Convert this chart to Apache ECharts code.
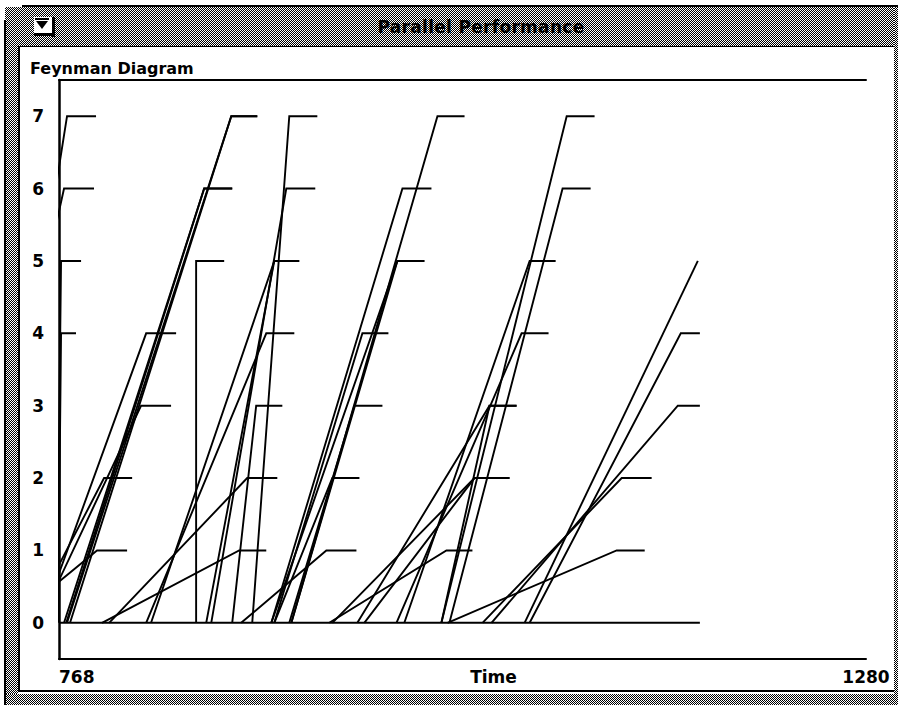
<!DOCTYPE html>
<html>
<head>
<meta charset="utf-8">
<title>Parallel Performance</title>
<script src="https://cdn.jsdelivr.net/npm/echarts@6/dist/echarts.min.js"></script>
<style>
  html, body { margin: 0; padding: 0; background: #fff; }
  #win { position: relative; width: 898px; height: 705px; overflow: hidden; background: #fff; }
  .dither {
    position: absolute;
    background: repeating-conic-gradient(#000 0 25%, #fff 0 50%) 0 0 / 2px 2px;
  }
  .bar { position: absolute; background: #000; }
  #panel {
    position: absolute; left: 18px; top: 46px; width: 876px; height: 646px;
    background: #fff; border-left: 2px solid #000; border-top: 1px solid #000; border-bottom: 2px solid #000;
    box-sizing: border-box;
  }
  #wtitle {
    position: absolute; left: 0; width: 962px; top: 17px; text-align: center;
    font: bold 17px "DejaVu Sans", sans-serif; color: #000; letter-spacing: 0.3px;
  }
  #closebox { position: absolute; left: 34px; top: 17px; width: 18px; height: 16px; background: #fff; }
  #chart { position: absolute; left: 0; top: 0; width: 898px; height: 705px; }
</style>
</head>
<body>
<div id="win">
  <div class="dither" style="left:5px;top:7px;width:893px;height:40px"></div>
  <div class="dither" style="left:5px;top:7px;width:13px;height:698px"></div>
  <div class="dither" style="left:5px;top:694px;width:893px;height:11px"></div>
  <div class="dither" style="left:894px;top:7px;width:4px;height:698px"></div>
  <div class="bar" style="left:22px;top:5px;width:876px;height:2px"></div>
  <div class="bar" style="left:4px;top:20px;width:2px;height:685px"></div>
  <div id="panel"></div>
  <div id="closebox">
    <svg width="18" height="16" viewBox="0 0 18 16">
      <rect x="1" y="1" width="14" height="2" fill="#000"/>
      <polygon points="2,4 14,4 8,12" fill="#000"/>
    </svg>
  </div>
  <div class="bar" style="left:52px;top:17px;width:3px;height:20px"></div>
  <div class="bar" style="left:34px;top:33px;width:21px;height:3px"></div>
  <div id="wtitle">Parallel Performance</div>
  <div id="chart"></div>
</div>
<script>
// Message events: each message leaves processor 0 at sendTime and reaches
// processor procId at recvTime; the receiver then stays busy until busyUntil.
const procLevels = [0, 1, 2, 3, 4, 5, 6, 7];
const timeTicks = [768, 1280];
const procId = [
  7, 6, 5, 4,
  1, 2, 3, 4, 5, 6, 6, 7, 7,
  1, 2, 3, 4, 5, 5, 6, 7,
  1, 2, 3, 4, 5, 5, 6, 7,
  1, 2, 2, 3, 3, 4, 5, 6, 7,
  1, 2, 3, 4, 5
];
const sendTime = [
  722.3, 710.2, 766.7, 767.4,
  736.2, 748.9, 755.3, 756.6, 855.0, 771.2, 772.6, 773.1, 775.0,
  795.3, 799.8, 877.9, 823.3, 826.4, 861.4, 864.6, 890.6,
  883.6, 904.6, 914.1, 904.6, 915.4, 902.7, 902.7, 915.4,
  939.5, 941.4, 961.7, 957.3, 1010.6, 982.1, 987.1, 1015.7, 1010.6,
  1014.5, 1036.7, 1042.4, 1066.6, 1063.4
];
const recvTime = [
  773.1, 771.2, 769.3, 769.3,
  792.1, 796.6, 820.1, 823.3, 855.0, 860.1, 860.1, 877.3, 877.3,
  882.3, 887.4, 893.1, 899.5, 904.6, 904.6, 912.2, 914.1,
  937.6, 941.4, 955.4, 960.5, 982.7, 982.7, 985.9, 1008.1,
  1013.8, 1031.6, 1031.6, 1041.1, 1041.1, 1061.5, 1066.6, 1087.5, 1090.1,
  1121.8, 1125.0, 1160.6, 1162.5, 1173.3
];
const busyUntil = [
  791.5, 790.2, 782.0, 778.8,
  811.2, 814.4, 839.1, 842.3, 872.8, 877.9, 877.9, 893.8, 893.8,
  899.5, 906.5, 909.7, 917.3, 920.4, 920.4, 930.6, 931.9,
  956.7, 958.6, 973.2, 977.0, 999.8, 999.8, 1004.3, 1025.3,
  1030.3, 1053.8, 1053.8, 1058.3, 1058.3, 1078.6, 1083.1, 1105.3, 1107.8,
  1139.6, 1144.0, 1174.6, 1174.6, null
];
// Processor 0 timeline
const baseLine = [[768, 0], [1174.6, 0]];

const messages = procId.map((p, i) => {
  const pts = [[sendTime[i], 0], [recvTime[i], p]];
  if (busyUntil[i] != null) pts.push([busyUntil[i], p]);
  return { coords: pts };
});

const labelFont = { fontFamily: 'DejaVu Sans', fontWeight: 'bold', fontSize: 17, color: '#000' };

const chart = echarts.init(document.getElementById('chart'), null, { renderer: 'svg' });
chart.setOption({
  backgroundColor: 'transparent',
  animation: false,
  title: {
    text: 'Feynman Diagram',
    left: 25, top: 55,
    textStyle: { fontFamily: 'DejaVu Sans', fontWeight: 'bold', fontSize: 16, color: '#000' }
  },
  grid: { left: 59, right: 32, top: 80, bottom: 46, containLabel: false },
  xAxis: [
    {
      type: 'value', min: 768, max: 1280, position: 'bottom',
      axisLine: { show: true, onZero: false, lineStyle: { color: '#000', width: 2 } },
      axisTick: { show: false },
      splitLine: { show: false },
      axisLabel: Object.assign({ customValues: timeTicks, margin: 9, showMinLabel: true, showMaxLabel: true,
        alignMinLabel: 'left', alignMaxLabel: 'center', formatter: v => String(v) }, labelFont),
      name: 'Time', nameLocation: 'middle', nameGap: 9, nameMoveOverlap: false,
      nameTextStyle: Object.assign({ padding: [0, 0, 0, 62], verticalAlign: 'top' }, labelFont)
    },
    {
      type: 'value', min: 768, max: 1280, position: 'top',
      axisLine: { show: true, onZero: false, lineStyle: { color: '#000', width: 2 } },
      axisTick: { show: false }, axisLabel: { show: false }, splitLine: { show: false }
    }
  ],
  yAxis: {
    type: 'value', min: -0.5, max: 7.5,
    axisLine: { show: true, onZero: false, lineStyle: { color: '#000', width: 2.5 } },
    axisTick: { show: false },
    splitLine: { show: false },
    axisLabel: Object.assign({ customValues: procLevels, margin: 15 }, labelFont)
  },
  series: [
    {
      type: 'lines', coordinateSystem: 'cartesian2d', polyline: true, clip: true,
      silent: true,
      lineStyle: { color: '#000', width: 1.9, opacity: 1 },
      data: messages
    },
    {
      type: 'line', data: baseLine, symbol: 'none', clip: true, silent: true,
      lineStyle: { color: '#000', width: 2 }
    }
  ]
});
</script>
</body>
</html>
